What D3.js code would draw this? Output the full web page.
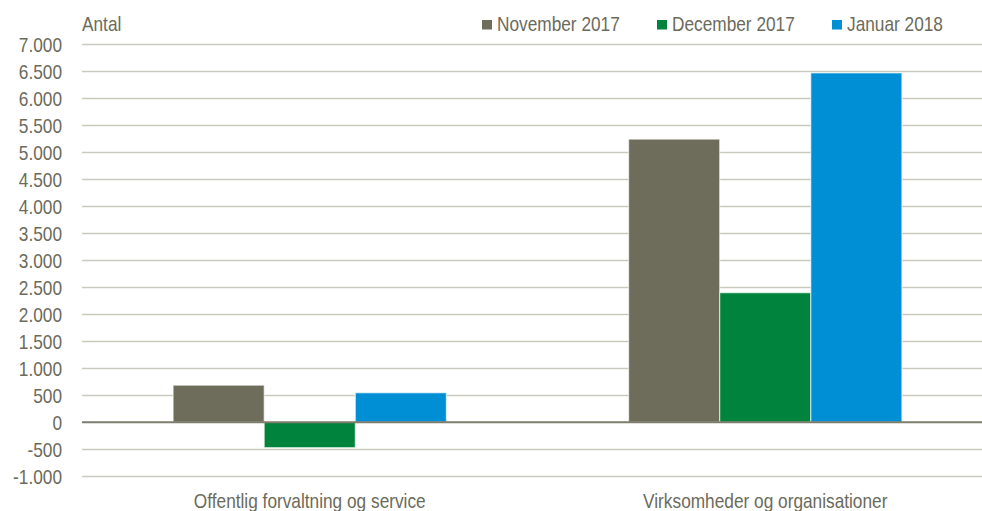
<!DOCTYPE html>
<html><head><meta charset="utf-8">
<script src="https://cdn.jsdelivr.net/npm/d3@7"></script>
<style>
body{margin:0;background:#fff;}
svg{display:block;font-family:"Liberation Sans",Arial,sans-serif;}
</style></head>
<body>
<svg id="chart" width="982" height="511"></svg>
<script>
const categories = ["Offentlig forvaltning og service", "Virksomheder og organisationer"];
const seriesNames = ["November 2017", "December 2017", "Januar 2018"];
const november2017 = [685, 5235];
const december2017 = [-470, 2395];
const januar2018 = [545, 6460];
const seriesValues = [november2017, december2017, januar2018];
const colors = ["#6e6d5b", "#00843d", "#008fd5"];
const yTicks = [-1000,-500,0,500,1000,1500,2000,2500,3000,3500,4000,4500,5000,5500,6000,6500,7000];
const yAxisTitle = "Antal";

const svg = d3.select("#chart");
const W = 982;
const plotLeft = 82, plotRight = 993;
const y = d3.scaleLinear().domain([-1000, 7000]).range([476.3, 43.7]);
const x0 = d3.scaleBand().domain(categories).range([plotLeft, plotRight]).paddingInner(0).paddingOuter(0);
const x1 = d3.scaleBand().domain(seriesNames).range([0, x0.bandwidth()]).paddingInner(0).paddingOuter(1);

const textColor = "#6b6b5c";
const FS = 21, SX = 0.822;
const fmt = v => d3.format(",")(v).replace(/,/g, ".").replace(/\u2212/g, "-");

// gridlines
svg.append("g").selectAll("line").data(yTicks.filter(t => t !== 0)).join("line")
  .attr("x1", plotLeft).attr("x2", W)
  .attr("y1", d => Math.round(y(d)) + 0.5).attr("y2", d => Math.round(y(d)) + 0.5)
  .attr("stroke", "#c9c9bd").attr("stroke-width", 1.5);

// y axis labels
const yAxis = d3.axisLeft(y).tickValues(yTicks).tickSize(0).tickPadding(0).tickFormat(fmt);
const ya = svg.append("g").attr("transform", "translate(62,0)").call(yAxis);
ya.select(".domain").remove();
ya.selectAll("text").attr("fill", textColor).attr("font-size", FS)
  .attr("font-family", "Liberation Sans, Arial, sans-serif").attr("x", 0).attr("dy", "0.35em")
  .attr("transform", `scale(${SX},1)`);

// bars
const groups = svg.append("g").selectAll("g").data(categories).join("g")
  .attr("transform", d => `translate(${x0(d)},0)`);
groups.selectAll("rect").data((c, ci) => seriesNames.map((s, si) => ({s, si, v: seriesValues[si][ci]}))).join("rect")
  .attr("x", d => x1(d.s))
  .attr("width", x1.bandwidth())
  .attr("y", d => y(Math.max(0, d.v)))
  .attr("height", d => Math.abs(y(d.v) - y(0)))
  .attr("fill", d => colors[d.si])
  .attr("stroke", "#ffffff").attr("stroke-opacity", 0.6).attr("stroke-width", 1.2);

// zero line
svg.append("line").attr("x1", plotLeft).attr("x2", W)
  .attr("y1", y(0)).attr("y2", y(0)).attr("stroke", "#7d7d6c").attr("stroke-width", 2);

// category labels
const xAxis = d3.axisBottom(x0).tickSize(0).tickPadding(0);
const xa = svg.append("g").call(xAxis);
xa.select(".domain").remove();
xa.selectAll("text").attr("fill", textColor).attr("font-size", FS)
  .attr("font-family", "Liberation Sans, Arial, sans-serif").attr("y", 508).attr("dy", 0)
  .attr("transform", `scale(${SX},1)`);

// y axis title
svg.append("g").attr("transform", "translate(82,31)").append("text").text(yAxisTitle)
  .attr("fill", textColor).attr("font-size", FS).attr("transform", `scale(${SX},1)`);

// legend
const legendX = [482, 657, 832];
const lg = svg.append("g").selectAll("g").data(seriesNames).join("g")
  .attr("transform", (d, i) => `translate(${legendX[i]},0)`);
lg.append("rect").attr("x", 0).attr("y", 20).attr("width", 10).attr("height", 9.5)
  .attr("fill", (d, i) => colors[i]);
lg.append("g").attr("transform", "translate(15,31)").append("text").text(d => d)
  .attr("fill", textColor).attr("font-size", FS).attr("transform", `scale(${SX},1)`);
</script>
</body></html>
